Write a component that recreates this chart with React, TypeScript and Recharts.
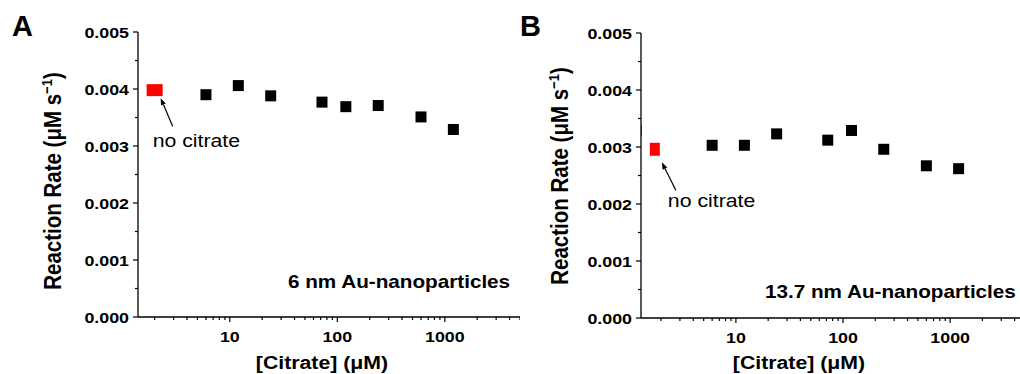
import { ScatterChart, Scatter, XAxis, YAxis } from 'recharts';

const FONT = '"Liberation Sans", Arial, Helvetica, sans-serif';
// the source figure is a little wider than tall, so text gets stretched to match
const STRETCH = 1.15;

// [Citrate] in µM
const CITRATE = [6, 12, 24, 72, 120, 240, 600, 1200];
const RATE_6NM = [0.0039, 0.00406, 0.00388, 0.00377, 0.00369, 0.00371, 0.00351, 0.00329];
const RATE_13NM = [0.00303, 0.00303, 0.00323, 0.00312, 0.00329, 0.00296, 0.00267, 0.00262];

// "no citrate" controls, parked at the left end of the log axis
const CONTROL_CITRATE_6NM = [2];
const CONTROL_RATE_6NM = [0.00398];
const CONTROL_CITRATE_13NM = [1.75];
const CONTROL_RATE_13NM = [0.00296];

// point that sits on the y axis in panel B (mostly clipped)
const EDGE_CITRATE_13NM = [1.17];
const EDGE_RATE_13NM = [0.00329];

const X_TICKS = [
  2, 3, 4, 5, 6, 7, 8, 9, 10, 20, 30, 40, 50, 60, 70, 80, 90, 100,
  200, 300, 400, 500, 600, 700, 800, 900, 1000, 2000, 3000, 4000, 5000,
];
const X_LABELS = [10, 100, 1000];
const Y_TICKS = [0, 0.0005, 0.001, 0.0015, 0.002, 0.0025, 0.003, 0.0035, 0.004, 0.0045, 0.005];
const Y_LABELS = [0, 0.001, 0.002, 0.003, 0.004, 0.005];

const toPoints = (xs: number[], ys: number[]) => xs.map((c, i) => ({ citrate: c, rate: ys[i] }));

function SText({ x, y, sx = STRETCH, children, ...rest }: any) {
  return (
    <text transform={`translate(${x},${y}) scale(${sx},1)`} fontFamily={FONT} fill="#000" {...rest}>
      {children}
    </text>
  );
}

function XTick({ x, y, payload }: any) {
  const major = X_LABELS.includes(payload.value);
  return (
    <g>
      <line x1={x} x2={x} y1={y} y2={y + (major ? 5 : 3)} stroke="#000" strokeWidth={1.2} />
      {major && (
        <SText x={x} y={y + 25} textAnchor="middle" fontSize={15.5} fontWeight="bold">
          {payload.value}
        </SText>
      )}
    </g>
  );
}

function YTick({ x, y, payload }: any) {
  const major = Y_LABELS.some((v) => Math.abs(v - payload.value) < 1e-9);
  return (
    <g>
      <line x1={x - (major ? 5 : 3)} x2={x} y1={y} y2={y} stroke="#000" strokeWidth={1.2} />
      {major && (
        <SText x={x - 9} y={y + 5.5} textAnchor="end" fontSize={15.5} fontWeight="bold">
          {payload.value.toFixed(3)}
        </SText>
      )}
    </g>
  );
}

function Arrow({ x1, y1, x2, y2 }: any) {
  const a = Math.atan2(y2 - y1, x2 - x1);
  const len = 7;
  const w = 2.6;
  const bx = x2 - len * Math.cos(a);
  const by = y2 - len * Math.sin(a);
  const pts = [
    `${x2},${y2}`,
    `${bx + w * Math.sin(a)},${by - w * Math.cos(a)}`,
    `${bx - w * Math.sin(a)},${by + w * Math.cos(a)}`,
  ].join(' ');
  return (
    <g>
      <line x1={x1} y1={y1} x2={bx} y2={by} stroke="#000" strokeWidth={1.2} />
      <polygon points={pts} fill="#000" />
    </g>
  );
}

const blackSquare = (p: any) => (
  <rect x={p.cx - 5.5} y={p.cy - 5.5} width={11} height={11} fill="#000" />
);

interface Panel {
  letter: string;
  note: string;
  left: number;
  width: number;
  axisW: number;
  top: number;
  bottom: number;
  xMin: number;
  data: { citrate: number; rate: number }[];
  control: { citrate: number; rate: number }[];
  edge: { citrate: number; rate: number }[];
  ctrl: { w: number; h: number; head: number[]; tail: number[]; text: number[] };
  letterPos: number[];
  yTitle: number[];
  xTitle: number[];
  notePos: number[];
}

const PANELS: Panel[] = [
  {
    letter: 'A',
    note: '6 nm Au-nanoparticles',
    left: 0,
    width: 520,
    axisW: 138,
    top: 32,
    bottom: 57,
    xMin: 1.4,
    data: toPoints(CITRATE, RATE_6NM),
    control: toPoints(CONTROL_CITRATE_6NM, CONTROL_RATE_6NM),
    edge: [],
    ctrl: { w: 16, h: 12, head: [6, 8], tail: [18, 36], text: [-2, 57] },
    letterPos: [12, 36],
    yTitle: [61, 181],
    xTitle: [322, 369],
    notePos: [288, 288],
  },
  {
    letter: 'B',
    note: '13.7 nm Au-nanoparticles',
    left: 500,
    width: 525,
    axisW: 141,
    top: 33,
    bottom: 56,
    xMin: 1.3,
    data: toPoints(CITRATE, RATE_13NM),
    control: toPoints(CONTROL_CITRATE_13NM, CONTROL_RATE_13NM),
    edge: toPoints(EDGE_CITRATE_13NM, EDGE_RATE_13NM),
    ctrl: { w: 10, h: 13, head: [7, 13], tail: [21, 41], text: [13, 58] },
    letterPos: [20, 36],
    yTitle: [68, 176],
    xTitle: [299, 369],
    notePos: [265, 298],
  },
];

function RatePanel({ p }: { p: Panel }) {
  const controlShape = (s: any) => {
    const { cx, cy } = s;
    const c = p.ctrl;
    return (
      <g>
        <rect x={cx - c.w / 2} y={cy - c.h / 2} width={c.w} height={c.h} fill="#ff0000" />
        <Arrow x1={cx + c.tail[0]} y1={cy + c.tail[1]} x2={cx + c.head[0]} y2={cy + c.head[1]} />
        <SText x={cx + c.text[0]} y={cy + c.text[1]} fontSize={18.5}>
          no citrate
        </SText>
      </g>
    );
  };

  const xLabel = () => (
    <g>
      <text x={p.letterPos[0]} y={p.letterPos[1]} fontFamily={FONT} fontSize={29} fontWeight="bold">
        {p.letter}
      </text>
      <SText x={p.xTitle[0]} y={p.xTitle[1]} textAnchor="middle" fontSize={18.5} fontWeight="bold">
        [Citrate] (μM)
      </SText>
      <SText x={p.notePos[0]} y={p.notePos[1]} fontSize={18} fontWeight="bold">
        {p.note}
      </SText>
    </g>
  );

  const yLabel = () => (
    <text
      transform={`translate(${p.yTitle[0]},${p.yTitle[1]}) scale(${STRETCH},1) rotate(-90)`}
      textAnchor="middle"
      fontFamily={FONT}
      fontSize={20.5}
      fontWeight="bold"
      fill="#000"
    >
      Reaction Rate (μM s
      <tspan dy={-8} fontSize={13}>
        −1
      </tspan>
      <tspan dy={8}>)</tspan>
    </text>
  );

  return (
    <div style={{ position: 'absolute', left: p.left, top: 0 }}>
      <ScatterChart
        width={p.width}
        height={374}
        margin={{ top: p.top, right: 0, bottom: p.bottom - 1, left: 0 }}
      >
        <XAxis
          dataKey="citrate"
          type="number"
          scale="log"
          domain={[p.xMin, 5000]}
          allowDataOverflow
          ticks={X_TICKS}
          interval={0}
          height={1}
          tickSize={0}
          tickMargin={0}
          tickLine={false}
          tick={<XTick />}
          axisLine={{ stroke: '#000', strokeWidth: 1.3 }}
          label={xLabel}
        />
        <YAxis
          dataKey="rate"
          type="number"
          domain={[0, 0.005]}
          allowDataOverflow
          ticks={Y_TICKS}
          interval={0}
          width={p.axisW}
          tickSize={0}
          tickMargin={0}
          tickLine={false}
          tick={<YTick />}
          axisLine={{ stroke: '#000', strokeWidth: 1.3 }}
          label={yLabel}
        />
        {p.edge.length > 0 && (
          <Scatter data={p.edge} shape={blackSquare} isAnimationActive={false} />
        )}
        <Scatter data={p.data} shape={blackSquare} isAnimationActive={false} />
        <Scatter data={p.control} shape={controlShape} isAnimationActive={false} />
      </ScatterChart>
    </div>
  );
}

export default function App() {
  return (
    <div
      style={{
        position: 'absolute',
        left: 0,
        top: 0,
        width: 1020,
        height: 374,
        overflow: 'hidden',
        background: '#fff',
      }}
    >
      {PANELS.map((p) => (
        <RatePanel key={p.letter} p={p} />
      ))}
    </div>
  );
}
